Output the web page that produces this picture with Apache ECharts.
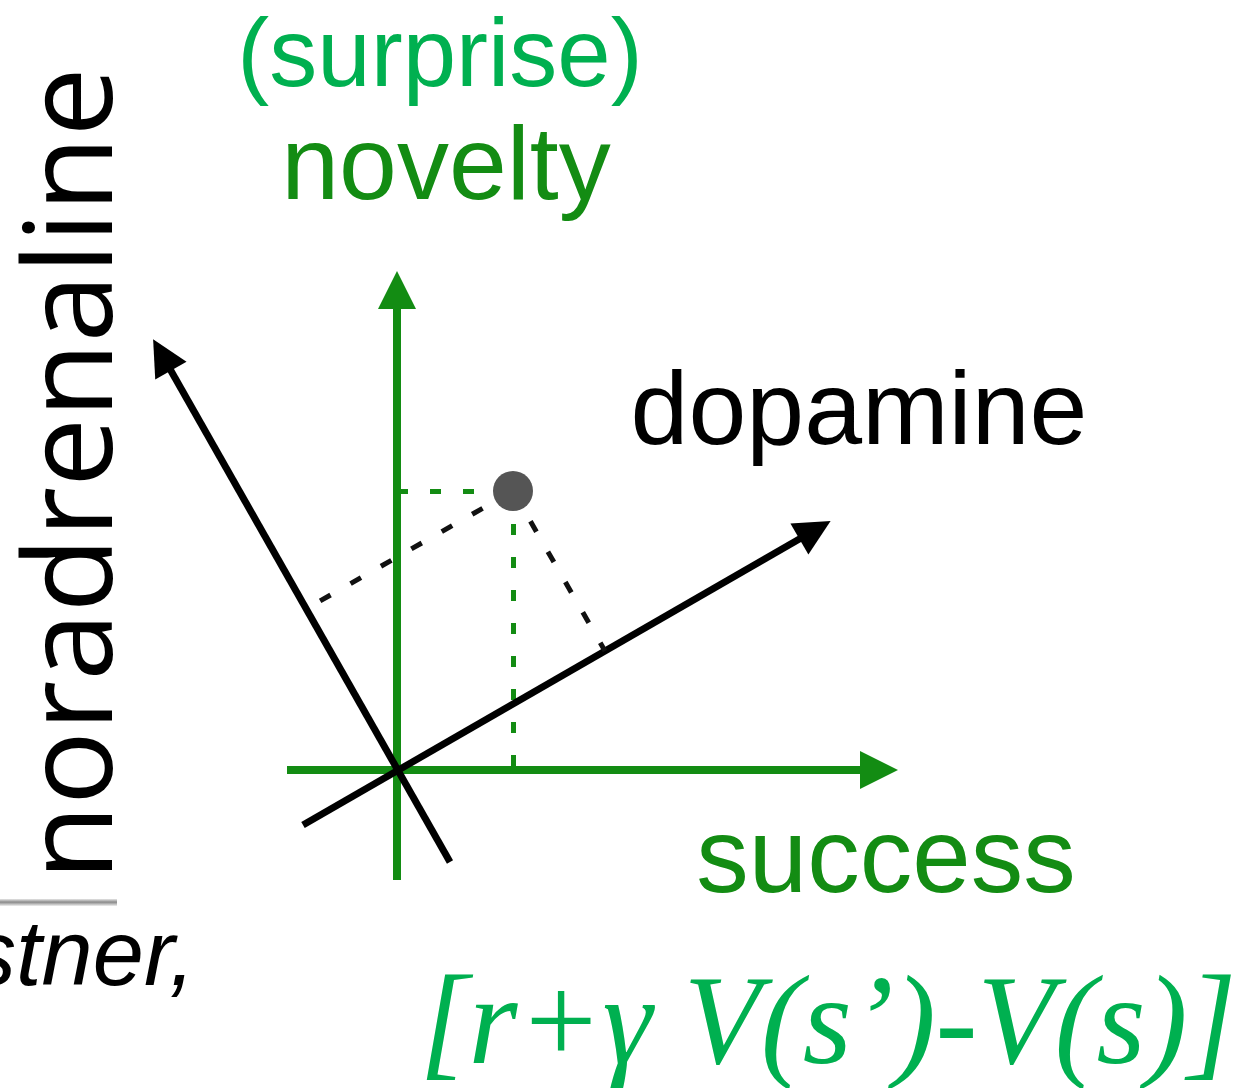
<!DOCTYPE html>
<html>
<head>
<meta charset="utf-8">
<title>novelty / success</title>
<script src="https://cdn.jsdelivr.net/npm/echarts@6/dist/echarts.min.js"></script>
<style>
  html, body { margin: 0; padding: 0; background: #fff; }
  #main { width: 1244px; height: 1088px; }
</style>
</head>
<body>
<div id="main"></div>
<script>
  // data space: origin where the axes cross, one unit = one pixel, y up
  const successAxis = [[-110, 0], [482, 0]];
  const noveltyAxis = [[0, -110], [0, 480]];
  const dopamineAxis = [[-94, -55], [418, 240]];
  const noradrenalineAxis = [[53, -92], [-235, 415]];
  const statePoint = [116, 279];
  const dopamineFoot = [208, 119];
  const noradrenalineFoot = [-91, 161];

  const green = '#138c13';
  const lightGreen = '#00b050';

  const chart = echarts.init(document.getElementById('main'));

  function segment(pts) {
    return { coords: pts };
  }

  const option = {
    animation: false,
    backgroundColor: '#fff',
    grid: { left: 0, right: 0, top: 0, bottom: 0 },
    xAxis: { type: 'value', min: -397, max: 847, show: false },
    yAxis: { type: 'value', min: -318, max: 770, show: false },
    series: [
      {
        type: 'lines', coordinateSystem: 'cartesian2d', silent: true, z: 2,
        symbol: ['none', 'triangle'], symbolSize: 38,
        lineStyle: { color: green, width: 8, opacity: 1 },
        data: [segment(successAxis), segment(noveltyAxis)]
      },
      {
        type: 'lines', coordinateSystem: 'cartesian2d', silent: true, z: 2,
        symbol: 'none',
        lineStyle: { color: green, width: 5, type: [11, 22], opacity: 1 },
        data: [
          segment([[0, statePoint[1]], statePoint]),
          segment([statePoint, [statePoint[0], 0]])
        ]
      },
      {
        type: 'lines', coordinateSystem: 'cartesian2d', silent: true, z: 3,
        symbol: ['none', 'triangle'], symbolSize: 36,
        lineStyle: { color: '#000', width: 7, opacity: 1 },
        data: [segment(dopamineAxis), segment(noradrenalineAxis)]
      },
      {
        type: 'lines', coordinateSystem: 'cartesian2d', silent: true, z: 3,
        symbol: 'none',
        lineStyle: { color: '#111', width: 5, type: [12, 23], opacity: 1 },
        data: [segment([statePoint, dopamineFoot]), segment([statePoint, noradrenalineFoot])]
      },
      {
        type: 'scatter', silent: true, z: 5,
        symbolSize: 40,
        itemStyle: { color: '#555', opacity: 1 },
        data: [statePoint]
      }
    ],
    graphic: [
      {
        type: 'text', x: 440, y: 60,
        style: { text: '(surprise)', font: '96px "Liberation Sans", Arial', fill: lightGreen,
          align: 'center', verticalAlign: 'middle' }
      },
      {
        type: 'text', x: 446, y: 170,
        style: { text: 'novelty', font: '104px "Liberation Sans", Arial', fill: green,
          align: 'center', verticalAlign: 'middle' }
      },
      {
        type: 'text', x: 859, y: 415,
        style: { text: 'dopamine', font: '104px "Liberation Sans", Arial', fill: '#000',
          align: 'center', verticalAlign: 'middle' }
      },
      {
        type: 'text', x: 886, y: 863,
        style: { text: 'success', font: '105px "Liberation Sans", Arial', fill: green,
          align: 'center', verticalAlign: 'middle' }
      },
      {
        type: 'text', x: 77, y: 474, rotation: Math.PI / 2,
        style: { text: 'noradrenaline', font: '123px "Open Sans"', fill: '#000',
          align: 'center', verticalAlign: 'middle' }
      },
      {
        type: 'rect', shape: { x: 0, y: 899, width: 117, height: 7 },
        style: {
          fill: new echarts.graphic.LinearGradient(0, 0, 0, 1, [
            { offset: 0, color: '#e6e6e6' },
            { offset: 0.45, color: '#8a8a8a' },
            { offset: 1, color: '#efefef' }
          ])
        }
      },
      {
        type: 'text', x: 195, y: 959,
        style: { text: 'stner,', font: 'italic 92px "Liberation Sans", Arial', fill: '#000',
          align: 'right', verticalAlign: 'middle' }
      },
      {
        type: 'text', x: 828, y: 1030,
        style: { text: '[r+γ V(s’)-V(s)]', font: 'italic 126px "Liberation Serif"', fill: lightGreen,
          align: 'center', verticalAlign: 'middle' }
      }
    ]
  };

  chart.setOption(option);
</script>
</body>
</html>
